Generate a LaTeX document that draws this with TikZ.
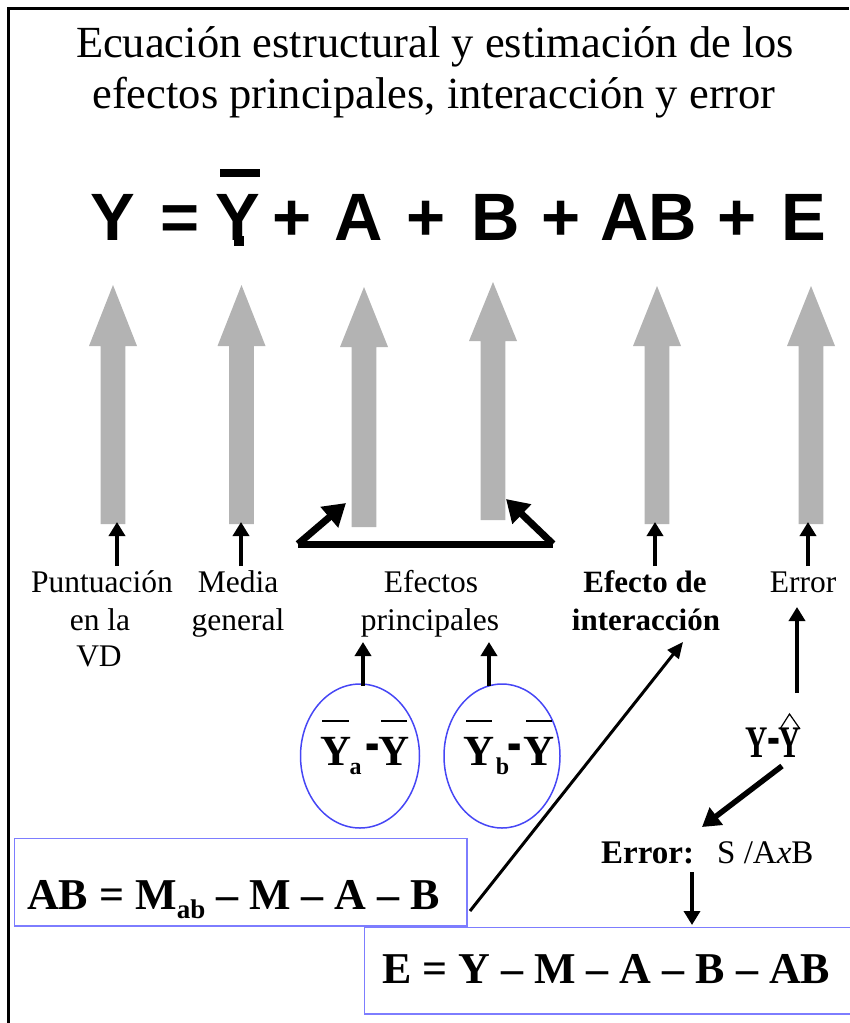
\documentclass[tikz,border=0pt]{standalone}
\usepackage{fontspec}
\setmainfont{Liberation Serif}
\newfontfamily\eqfont{Liberation Sans}
\usetikzlibrary{arrows.meta,shapes.geometric}
\definecolor{arrgrey}{RGB}{179,179,179}
\definecolor{ellblue}{RGB}{70,70,245}
\definecolor{boxblue}{RGB}{125,125,255}
\newcommand{\grarrow}[5]{%
  \fill[arrgrey] (#2,#3) -- (#2+24,#4) -- (#2+12.3,#4) -- (#2+12.3,#5) -- (#2-12.3,#5) -- (#2-12.3,#4) -- (#2-24,#4) -- cycle;
  \coordinate (#1) at (#2,#5);}
\begin{document}
\begin{tikzpicture}[x=1pt,y=-1pt,
  every node/.style={inner sep=0pt},
  ttl/.style={anchor=base,font=\fontsize{44.5}{44.5}\selectfont},
  eq/.style={anchor=base,font=\eqfont\bfseries\fontsize{67}{67}\selectfont},
  lbl/.style={anchor=base,font=\fontsize{31.5}{31.5}\selectfont},
  lblb/.style={anchor=base,font=\bfseries\fontsize{31}{31}\selectfont},
  elt/.style={anchor=base,font=\bfseries\fontsize{43}{43}\selectfont},
  els/.style={anchor=base,font=\bfseries\fontsize{24}{24}\selectfont},
  frm/.style={anchor=base west,font=\bfseries\fontsize{44}{44}\selectfont},
  blk/.style={line width=4,-{Triangle[width=16pt,length=14pt]}},
  fat/.style={line width=7,-{Triangle[width=26pt,length=22pt]}},
  mid/.style={line width=5.5,-{Triangle[width=21pt,length=18pt]}},
  thinarr/.style={line width=3,-{Triangle[width=14pt,length=16pt]}},
  ovl/.style={line width=1.4},
  ell/.style={draw=ellblue,line width=1.5,ellipse},
  bx/.style={draw=boxblue,line width=1.5}]
\useasboundingbox (0,0) rectangle (849,1023);
\draw[line width=2.5] (8.5,1023) -- (8.5,8.5) -- (849,8.5);
% title
\node[ttl] (t1) at (435,57) {Ecuación estructural y estimación de los};
\node[ttl] (t2) at (434,108) {efectos principales, interacción y error};
% equation
\node[eq] (eY) at (113,240) {Y};
\node[eq] (eEq) at (180,240) {=};
\node[eq] (eYb) at (238,240) {Y};
\fill (220,169) rectangle (260,177);
\fill (234.2,236) rectangle (243.8,246);
\node[eq] (p1) at (292,240) {+};
\node[eq] (eA) at (359,240) {A};
\node[eq] (p2) at (426,240) {+};
\node[eq] (eB) at (496,240) {B};
\node[eq] (p3) at (561,240) {+};
\node[eq] (eAB) at (649,240) {AB};
\node[eq] (p4) at (737,240) {+};
\node[eq] (eE) at (804,240) {E};
% grey arrows
\grarrow{g1}{113}{285}{346}{524}
\grarrow{g2}{241.5}{285}{346}{524}
\grarrow{g3}{364}{287}{347}{527}
\grarrow{g4}{493}{282}{341}{520}
\grarrow{g5}{657}{286}{346}{524}
\grarrow{g6}{811}{286}{346}{524}
% labels
\node[lbl] (lP1) at (102,592) {Puntuación};
\node[lbl] (lP2) at (100,630) {en la};
\node[lbl] (lP3) at (99,666) {VD};
\node[lbl] (lM1) at (238,592) {Media};
\node[lbl] (lM2) at (238,630) {general};
\node[lbl] (lE1) at (431,592) {Efectos};
\node[lbl] (lE2) at (430,630) {principales};
\node[lblb] (lI1) at (645,592) {Efecto de};
\node[lblb] (lI2) at (646,630) {interacción};
\node[lbl] (lR) at (803,592) {Error};
% small arrows up to grey arrows
\coordinate (s1) at (117,566); \coordinate (u1) at (117,522);
\coordinate (s2) at (241,566); \coordinate (u2) at (241,522);
\coordinate (s5) at (655,566); \coordinate (u5) at (655,522);
\coordinate (s6) at (808,566); \coordinate (u6) at (808,522);
\draw[blk] (s1) -- (u1);
\draw[blk] (s2) -- (u2);
\draw[blk] (s5) -- (u5);
\draw[blk] (s6) -- (u6);
% bracket
\coordinate (bl) at (298,544); \coordinate (br) at (553,544);
\coordinate (g3t) at (346,503); \coordinate (g4t) at (506,499);
\draw[line width=7] (bl) -- (br);
\draw[fat] (bl) -- (g3t);
\draw[fat] (br) -- (g4t);
% ellipses
\node[ell,minimum width=119,minimum height=144] (el1) at (360,756) {};
\node[ell,minimum width=116,minimum height=144] (el2) at (502,756) {};
\node[elt] (ya) at (336,765) {Y};
\node[els] (sa) at (355.5,774) {a};
\node[elt] (ma) at (373,765) {\scalebox{1}[1.8]{-}};
\node[elt] (yma) at (394,765) {Y};
\draw[ovl] (322,721) -- (349,721);
\draw[ovl] (381,721) -- (407,721);
\node[elt] (yb) at (479.5,765) {Y};
\node[els] (sb) at (502.5,774) {b};
\node[elt] (mb) at (515,765) {\scalebox{1}[1.8]{-}};
\node[elt] (ymb) at (539,765) {Y};
\draw[ovl] (466,721) -- (492,721);
\draw[ovl] (526,721) -- (552,721);
\coordinate (e1t) at (363,686); \coordinate (pr1) at (363,642);
\coordinate (e2t) at (489,686); \coordinate (pr2) at (489,642);
\draw[blk] (e1t) -- (pr1);
\draw[blk] (e2t) -- (pr2);
% Y - Yhat
\node[elt] (yy) at (756.5,757) {\scalebox{0.72}[1.05]{Y}};
\node[elt] (ym) at (774,757) {\scalebox{0.9}[1.6]{-}};
\node[elt] (yh) at (790,757) {\scalebox{0.72}[1.05]{Y}};
\draw[line width=1.2] (780,729) -- (789.5,714) -- (800,729);
\coordinate (yt) at (797,693); \coordinate (rb) at (797,607);
\draw[blk] (yt) -- (rb);
\coordinate (yl) at (782,766); \coordinate (et) at (702,827);
\draw[mid] (yl) -- (et);
% Error: S/AxB
\node[anchor=base west,font=\bfseries\fontsize{33}{33}\selectfont] (err) at (601,863) {Error:};
\node[anchor=base west,font=\fontsize{33}{33}\selectfont] (sab) at (717,863) {S /A\textit{x}B};
\coordinate (ed) at (692,872); \coordinate (eb) at (692,925);
\draw[blk] (ed) -- (eb);
% AB box
\draw[bx] (14.5,838.5) rectangle (467,926);
\node[frm] (abt) at (27,909) {AB = M\raisebox{-0.22em}{\fontsize{27}{27}\selectfont ab} -- M -- A -- B};
\coordinate (abc) at (470,911); \coordinate (it) at (683,642);
\draw[thinarr] (abc) -- (it);
% E box
\draw[bx] (870,927.5) -- (364.5,927.5) -- (364.5,1014) -- (870,1014);
\node[frm] (et2) at (382,983) {E = Y -- M -- A -- B -- AB};
\end{tikzpicture}
\end{document}
